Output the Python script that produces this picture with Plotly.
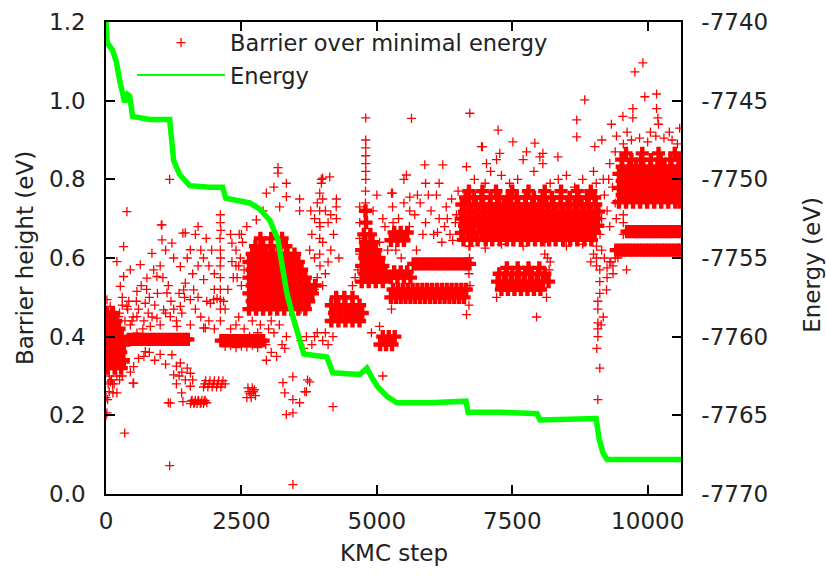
import plotly.graph_objects as go

# ---------------- Energy (right axis) ----------------
energy_steps = [0, 20, 122, 196, 251, 307, 344, 399, 436, 491, 806, 1175, 1212, 1249, 1360, 1545, 1915, 2155, 2210, 2654,
                2839, 3023, 3171, 3264, 3337, 3448, 3577, 3651, 4076, 4187, 4686, 4816, 4908, 5019, 5185, 5370, 5980, 6646, 6683, 7274,
                7958, 8013, 9048, 9103, 9177, 9251, 9861, 10615]
energy_values = [-7740.0, -7741.3, -7741.8, -7742.6, -7743.7, -7744.8, -7745.1, -7744.6, -7744.7, -7746.0,
                 -7746.2, -7746.2, -7747.5, -7748.8, -7749.7, -7750.4, -7750.5, -7750.5, -7751.2, -7751.5,
                 -7751.9, -7752.6, -7753.8, -7755.8, -7757.2, -7758.7, -7760.4, -7761.1, -7761.3, -7762.3,
                 -7762.4, -7762.0, -7762.6, -7763.2, -7763.8, -7764.2, -7764.2, -7764.1, -7764.8, -7764.8,
                 -7764.9, -7765.3, -7765.2, -7766.5, -7767.4, -7767.8, -7767.8, -7767.8]

# ---------------- Barrier values, isolated / sparse points (step, barrier) ----------------
sparse_early = [
    (386, .718), (1033, .684), (1464, .664), (325, .629), (848, .612), (1033, .646), (1217, .638), (1557, .621), (201, .591), (633, .583),
    (879, .570), (1249, .600), (1372, .578), (325, .553), (755, .549), (940, .553), (448, .570), (1464, .536), (1803, .545), (264, .528),
    (571, .515), (1125, .511), (1618, .519), (1926, .485), (2111, .494), (79, .477), (386, .477), (725, .485), (1064, .468), (1372, .477),
    (1557, .494), (1433, .519), (233, .451), (571, .451), (940, .447), (1187, .451), (1557, .430), (1803, .422), (1310, .426), (818, .426),
    (571, .409), (201, .400), (17, .494), (172, .435), (725, .362), (1217, .354), (510, .324), (356, .333), (1372, .333), (1557, .307),
    (1464, .290), (1557, .274), (1249, .303), (1187, .231), (510, .282), (201, .257), (1834, .422), (1988, .494), (1860, .490), (2050, .497),
    (2170, .490), (1175, .800), (1021, .684), (1420, .663), (1175, .072), (345, .155), (1150, .232), (1420, .235), (1396, .257), (1300, .280),
    (1350, .300), (1600, .290), (127, .257), (500, .282), (17, .206), (0, .245),
    (600, .470), (700, .440), (800, .500), (900, .480), (1000, .430), (1100, .460), (1200, .490), (1300, .440), (1400, .460), (650, .530),
    (750, .520), (850, .450), (950, .510), (1050, .550), (1150, .530), (1250, .470), (1350, .510), (1450, .500), (480, .440), (560, .490),
    (680, .420), (780, .460), (1000, .580), (1100, .620), (1500, .600), (1600, .560), (1700, .580), (1750, .620), (1650, .660), (1700, .680),
    (1800, .600), (1900, .580), (2000, .560), (1950, .620), (1850, .650), (2000, .520), (1700, .500), (1650, .470), (1750, .450), (1900, .440),
    (2000, .420), (250, .460), (300, .480), (350, .440), (400, .470), (450, .430), (500, .450), (300, .500), (420, .490),
    (700, .350), (800, .360), (900, .340), (1000, .355), (1100, .330), (600, .345), (300, .300), (450, .310), (1400, .310), (1500, .320),
    (1300, .325), (150, .280), (250, .290), (60, .300), (100, .290), (40, .280), (80, .285), (120, .280), (200, .300), (0, .200),
    (30, .240), (60, .260),
    (2111, .690), (2111, .710), (2120, .670), (2105, .650), (2111, .620), (2115, .600), (2108, .580), (2111, .550), (2111, .520), (2111, .470),
    (2111, .440), (2325, .638), (2325, .591),
]

small_blobs = [
    (1560, .230), (1590, .238), (1620, .230), (1650, .238), (1680, .230), (1710, .238), (1740, .230), (1770, .238), (1800, .230), (1830, .238),
    (1860, .232), (1575, .236), (1635, .232), (1695, .236), (1755, .232), (1815, .236),
    (1800, .272), (1840, .288), (1880, .272), (1920, .288), (1960, .272), (2000, .288), (2040, .272), (2080, .288), (2120, .272), (2160, .288),
    (2200, .280), (1820, .280), (1900, .280), (1980, .280), (2060, .280), (2140, .280),
    (2600, .245), (2640, .260), (2680, .245), (2720, .260), (2760, .250), (2620, .270), (2700, .270), (2660, .255), (2740, .265),
    (2200, .375), (2300, .378), (2400, .372), (2500, .376), (2600, .374), (2700, .378), (2800, .372),
]

sparse_mid = [
    (2775, .697), (2960, .765), (3175, .816), (3175, .830), (3330, .756), (3330, .790), (3575, .720), (3575, .750), (3976, .790), (3976, .800),
    (4130, .806), (4253, .700), (4253, .750), (3206, .730), (3945, .610), (3945, .650), (3945, .690), (3945, .720), (3945, .765), (3100, .780),
    (2900, .720), (2600, .680), (2500, .660), (2400, .620), (2300, .660), (2450, .580), (2350, .550), (2250, .520), (2200, .470), (2400, .430),
    (2300, .420), (2450, .450), (2550, .420),
    (3266, .283), (3450, .298), (3300, .257), (3450, .240), (3575, .232), (3330, .202), (3450, .206), (3700, .260), (3760, .285), (4190, .222),
    (3450, .024), (3720, .290), (3670, .260), (5110, .300), (4900, .410), (5050, .426),
    (2960, .340), (3050, .360), (3150, .350), (3250, .380), (3330, .400), (3000, .420), (3100, .410), (3200, .430), (3300, .370), (2950, .380),
    (2700, .440), (2800, .410), (2650, .400), (2850, .430), (3050, .440),
    (3600, .390), (3700, .400), (3800, .380), (3900, .410), (4000, .390), (4100, .380), (4190, .400), (3650, .370), (3850, .400), (4050, .410),
    (3760, .620), (3800, .660), (3850, .700), (3900, .740), (3950, .680), (4000, .640), (4050, .720), (4100, .690), (4150, .620), (4200, .660),
    (4250, .730), (4300, .600), (3850, .600), (4000, .750), (4150, .710), (3780, .720),
    (3900, .550), (3950, .580), (4000, .530), (4050, .560), (3850, .520), (4100, .590), (3550, .500), (3600, .470), (3650, .520),
    (4795, .956), (4795, .900), (4795, .880), (4795, .860), (4795, .840), (4795, .820), (4795, .800), (4790, .770), (4790, .740), (4800, .720),
    (4684, .610), (4684, .650), (4684, .690), (4684, .730), (4650, .570), (4600, .550), (4550, .530), (4930, .720), (5000, .760), (5110, .700),
    (5050, .640), (5290, .730), (5290, .765),
    (2420, .550), (2480, .600), (2520, .640), (2460, .660), (2400, .580), (2550, .570), (2500, .530),
    (5640, .955), (6716, .968), (6932, .883), (5885, .837), (6217, .837), (5546, .811), (4000, .803), (5300, .690),
    (5270, .765), (5330, .654), (5608, .720), (5608, .755), (5731, .620), (5400, .700), (5500, .740), (5600, .680), (5700, .710), (5800, .740),
    (5900, .690), (6000, .720), (6050, .660), (5450, .670), (5750, .760), (5950, .760), (5850, .660), (6150, .700), (6250, .680), (6350, .660),
    (6450, .690), (6200, .640), (6300, .700), (6400, .645), (6120, .665), (6470, .710), (6380, .750), (6280, .730), (6500, .770), (6100, .760),
    (6655, .832), (7024, .840), (7270, .866), (5500, .800), (5900, .790), (6150, .790),
    (6655, .456), (5270, .470), (6700, .480), (6720, .530), (6700, .560), (6710, .600), (6720, .630), (7948, .450), (8132, .500),
    (5200, .620), (5150, .680), (5350, .620), (5450, .600), (5000, .540), (5180, .560),
]

sparse_right = [
    (6950, .883), (7209, .850), (7700, .850), (7763, .870), (8008, .857), (7512, .895), (7917, .892), (8343, .857), (7239, .925),
    (8690, .951), (8690, .908), (8838, 1.002), (9024, .883), (9153, .900), (8065, .840), (8065, .866), (9763, 1.073), (9911, 1.096), (9948, 1.010),
    (10164, 1.017), (10188, .956), (9542, .960), (9726, .956), (9330, .940), (9424, .910), (9726, .980), (10164, .980), (10200, .940),
    (10590, .930),
    (6800, .800), (7000, .790), (7300, .810), (7600, .800), (7900, .820), (8200, .790), (8500, .810), (8800, .800), (9000, .820), (7100, .820),
    (7450, .790), (8350, .800), (8650, .780), (9050, .790), (9300, .840), (9400, .870), (9550, .890), (9700, .900), (9850, .905), (10000, .895),
    (10150, .910), (10300, .905), (10450, .900), (10550, .890), (9620, .920), (10050, .920), (10400, .920),
    (9055, .580), (9055, .600), (9055, .630), (9116, .510), (9116, .540), (9116, .570), (9080, .470), (9080, .490), (9080, .400), (9080, .420),
    (9080, .435), (9240, .519), (9360, .560), (9360, .580), (9610, .570), (9116, .320), (9080, .240), (9550, .660), (9550, .690), (9550, .710),
    (9150, .620), (9200, .600), (9300, .590), (9450, .600), (9000, .610), (8950, .590), (9250, .550), (9180, .450), (9060, .370), (9140, .430),
    (7210, .500), (8180, .570), (8200, .590), (8150, .600), (8100, .610),
    (6700, .630), (7000, .625), (7300, .635), (7700, .630), (8100, .640), (8500, .630), (8800, .635),
    (9150, .700), (9200, .760), (9250, .720), (9300, .680), (9350, .780), (9400, .740), (9180, .800), (9280, .800), (9420, .700), (9120, .660),
    (9250, .575), (9320, .590), (9400, .600),
]

# ---------------- Barrier values in densely packed regions: (barrier, [steps]) ----------------
dense_start = [(.32, [30, 160, 280]), (.34, [0, 90, 220, 320]), (.36, [40, 160, 270]), (.38, [0, 100, 220, 330]),
               (.40, [50, 170, 290]), (.42, [10, 120, 240]), (.44, [60, 180]), (.46, [20, 130])]
dense_bands_low = [(.393, [420, 485, 550, 615, 680, 745, 810, 875, 940, 1005, 1070, 1135, 1200, 1265, 1330, 1395, 1460, 1510]),
                   (.390, [2130, 2195, 2260, 2325, 2390, 2455, 2520, 2585, 2650, 2715, 2780, 2845, 2900])]
dense_mid = [(.47, [2640, 2770, 2900, 3030, 3160, 3290, 3420, 3550, 3680]),
             (.49, [2700, 2830, 2960, 3090, 3220, 3350, 3480, 3610, 3740]),
             (.51, [2640, 2770, 2900, 3030, 3160, 3290, 3420, 3550, 3680, 3810]),
             (.53, [2700, 2830, 2960, 3090, 3220, 3350, 3480, 3610, 3740, 3860]),
             (.55, [2640, 2770, 2900, 3030, 3160, 3290, 3420, 3550, 3680]),
             (.57, [2700, 2830, 2960, 3090, 3220, 3350, 3480, 3610]),
             (.59, [2640, 2770, 2900, 3030, 3160, 3290, 3420, 3550]),
             (.61, [2700, 2830, 2960, 3090, 3220, 3350, 3480]),
             (.63, [2760, 2900, 3040, 3180, 3320]),
             (.65, [2850, 3050, 3250])]
dense_4400 = [(.44, [4160, 4290, 4420, 4550, 4680]), (.46, [4220, 4350, 4480, 4610, 4730]),
              (.48, [4160, 4290, 4420, 4550, 4680]), (.50, [4250, 4400, 4550])]
dense_4800 = [(.54, [4720, 4850, 4980, 5110]), (.56, [4780, 4910, 5040, 5160]), (.58, [4720, 4850, 4980, 5110]),
              (.60, [4780, 4910, 5040]), (.62, [4720, 4850, 4980]), (.64, [4790, 4920]), (.66, [4760, 4880]),
              (.69, [4800]), (.72, [4790])]
dense_5200 = [(.38, [5060, 5170, 5280]), (.40, [5110, 5220, 5330]), (.55, [5260, 5380, 5500, 5620]),
              (.565, [5320, 5440, 5560]), (.645, [5260, 5380, 5500]), (.665, [5320, 5440, 5560])]
dense_bands_mid = [(.585, [5680, 5745, 5810, 5875, 5940, 6005, 6070, 6135, 6200, 6265, 6330, 6395, 6460, 6525, 6590, 6655, 6710]),
                   (.500, [5260, 5350, 5440, 5530, 5620, 5710, 5800, 5890, 5980, 6070, 6160, 6250, 6340, 6430, 6520, 6610]),
                   (.520, [5300, 5390, 5480, 5570, 5660, 5750, 5840, 5930, 6020, 6110, 6200, 6290, 6380, 6470, 6560, 6650])]
dense_7700 = [(.52, [7300, 7420, 7540, 7660, 7780, 7900, 8020]), (.54, [7230, 7350, 7470, 7590, 7710, 7830, 7950, 8070, 8170]),
              (.56, [7260, 7380, 7500, 7620, 7740, 7860, 7980, 8100]), (.575, [7400, 7600, 7800, 8000])]
dense_right = [
    (.646, [6600, 6740, 6860, 7010, 7130, 7270, 7400, 7520, 7660, 7790, 7920, 8050, 8180, 8300, 8440, 8570, 8700, 8830, 8960]),
    (.664, [6560, 6680, 6800, 6940, 7070, 7200, 7330, 7460, 7590, 7720, 7850, 7980, 8110, 8240, 8370, 8500, 8630, 8760, 8890, 9020]),
    (.682, [6620, 6750, 6880, 7010, 7140, 7270, 7400, 7530, 7660, 7790, 7920, 8050, 8180, 8310, 8440, 8570, 8700, 8830, 8960, 9080]),
    (.700, [6560, 6690, 6820, 6950, 7080, 7210, 7340, 7470, 7600, 7730, 7860, 7990, 8120, 8250, 8380, 8510, 8640, 8770, 8900, 9030]),
    (.718, [6620, 6750, 6880, 7010, 7140, 7270, 7400, 7530, 7660, 7790, 7920, 8050, 8180, 8310, 8440, 8570, 8700, 8830, 8960, 9090]),
    (.736, [6570, 6700, 6830, 6960, 7090, 7220, 7350, 7480, 7610, 7740, 7870, 8000, 8130, 8260, 8390, 8520, 8650, 8780, 8910, 9040]),
    (.754, [6640, 6790, 6930, 7100, 7260, 7420, 7580, 7750, 7900, 8060, 8230, 8400, 8560, 8720, 8880, 9020]),
    (.770, [6700, 6950, 7200, 7500, 7800, 8100, 8400, 8700, 8950]),
    (.742, [9470, 9600, 9730, 9860, 9990, 10120, 10250, 10380, 10510, 10590]),
    (.760, [9530, 9660, 9790, 9920, 10050, 10180, 10310, 10440, 10570]),
    (.778, [9470, 9600, 9730, 9860, 9990, 10120, 10250, 10380, 10510, 10590]),
    (.796, [9530, 9660, 9790, 9920, 10050, 10180, 10310, 10440, 10570]),
    (.814, [9470, 9600, 9730, 9860, 9990, 10120, 10250, 10380, 10510, 10590]),
    (.832, [9530, 9660, 9790, 9920, 10050, 10180, 10310, 10440, 10570]),
    (.850, [9520, 9700, 9880, 10060, 10240, 10420, 10580]),
    (.866, [9600, 9900, 10200, 10500]),
    (.667, [9620, 9680, 9740, 9800, 9860, 9920, 9980, 10040, 10100, 10160, 10220, 10280, 10340, 10400, 10460, 10520, 10580]),
    (.620, [9420, 9480, 9540, 9600, 9660, 9720, 9780, 9840, 9900, 9960, 10020, 10080, 10140, 10200, 10260, 10320, 10380, 10440,
            10500, 10560, 10600]),
]

x_ticks = [0, 2500, 5000, 7500, 10000]
y_ticks = [0.0, 0.2, 0.4, 0.6, 0.8, 1.0, 1.2]
y2_ticks = [-7770, -7765, -7760, -7755, -7750, -7745, -7740]

# ---------------- assemble ----------------
sparse_pts = sparse_early + small_blobs + sparse_mid + sparse_right
sp_x = [p[0] for p in sparse_pts]
sp_y = [p[1] for p in sparse_pts]
dense_x, dense_y = [], []
for group in (dense_start, dense_bands_low, dense_mid, dense_4400, dense_4800, dense_5200, dense_bands_mid, dense_7700, dense_right):
    for level, steps in group:
        for s in steps:
            dense_x.append(s)
            dense_y.append(level)

FONT = "DejaVu Sans"
TXT = "#222222"
RED = "#ff0000"
GREEN = "#00ff00"

fig = go.Figure()
fig.add_trace(go.Scatter(x=sp_x, y=sp_y, mode="markers", name="Barrier over minimal energy",
                         marker=dict(symbol="cross-thin", size=6.5, color=RED, line=dict(color=RED, width=1.3))))
fig.add_trace(go.Scatter(x=dense_x, y=dense_y, mode="markers", showlegend=False,
                         marker=dict(symbol="cross", size=11, color=RED, line=dict(width=0))))
fig.add_trace(go.Scatter(x=energy_steps, y=energy_values, mode="lines", yaxis="y2", showlegend=False,
                         line=dict(color=GREEN, width=5.5)))
fig.add_trace(go.Scatter(x=[None], y=[None], mode="lines", yaxis="y2", name="Energy",
                         line=dict(color=GREEN, width=2)))

axis_common = dict(showgrid=False, zeroline=False, showline=True, linecolor="black", linewidth=1.5,
                   ticks="inside", ticklen=9, tickwidth=1.5, tickcolor="black",
                   tickfont=dict(family=FONT, size=23, color=TXT))

fig.update_layout(
    width=826, height=577,
    margin=dict(l=106, r=145, t=22, b=82.5, autoexpand=False),
    paper_bgcolor="white", plot_bgcolor="white",
    font=dict(family=FONT, size=23, color=TXT),
    xaxis=dict(range=[0, 10615], tickvals=x_ticks, ticktext=[str(v) for v in x_ticks], mirror="ticks",
               ticklabelstandoff=6, **axis_common),
    yaxis=dict(range=[0, 1.2], tickvals=y_ticks, ticktext=["%.1f" % v for v in y_ticks],
               ticklabelstandoff=14, **axis_common),
    yaxis2=dict(range=[-7770, -7740], overlaying="y", side="right", tickvals=y2_ticks,
                ticktext=[str(v) for v in y2_ticks], ticklabelstandoff=14, **axis_common),
    legend=dict(x=(132 - 106) / 575, y=1 - (21.5 - 22) / 472.5, xanchor="left", yanchor="top",
                bgcolor="rgba(0,0,0,0)", itemwidth=88, tracegroupgap=0,
                font=dict(family=FONT, size=22.5, color=TXT), traceorder="normal"),
    annotations=[
        dict(text="Barrier height (eV)", xref="paper", yref="paper", x=0, y=0.5, xshift=-81,
             xanchor="center", yanchor="middle", textangle=-90, showarrow=False,
             font=dict(family=FONT, size=23, color=TXT)),
        dict(text="Energy (eV)", xref="paper", yref="paper", x=1, y=1 - (265 - 22) / 472.5, xshift=131,
             xanchor="center", yanchor="middle", textangle=-90, showarrow=False,
             font=dict(family=FONT, size=23, color=TXT)),
        dict(text="KMC step", xref="paper", yref="paper", x=0.5, y=0, yshift=-58.5,
             xanchor="center", yanchor="middle", showarrow=False,
             font=dict(family=FONT, size=23, color=TXT)),
    ],
)

fig.write_html("out.html")
